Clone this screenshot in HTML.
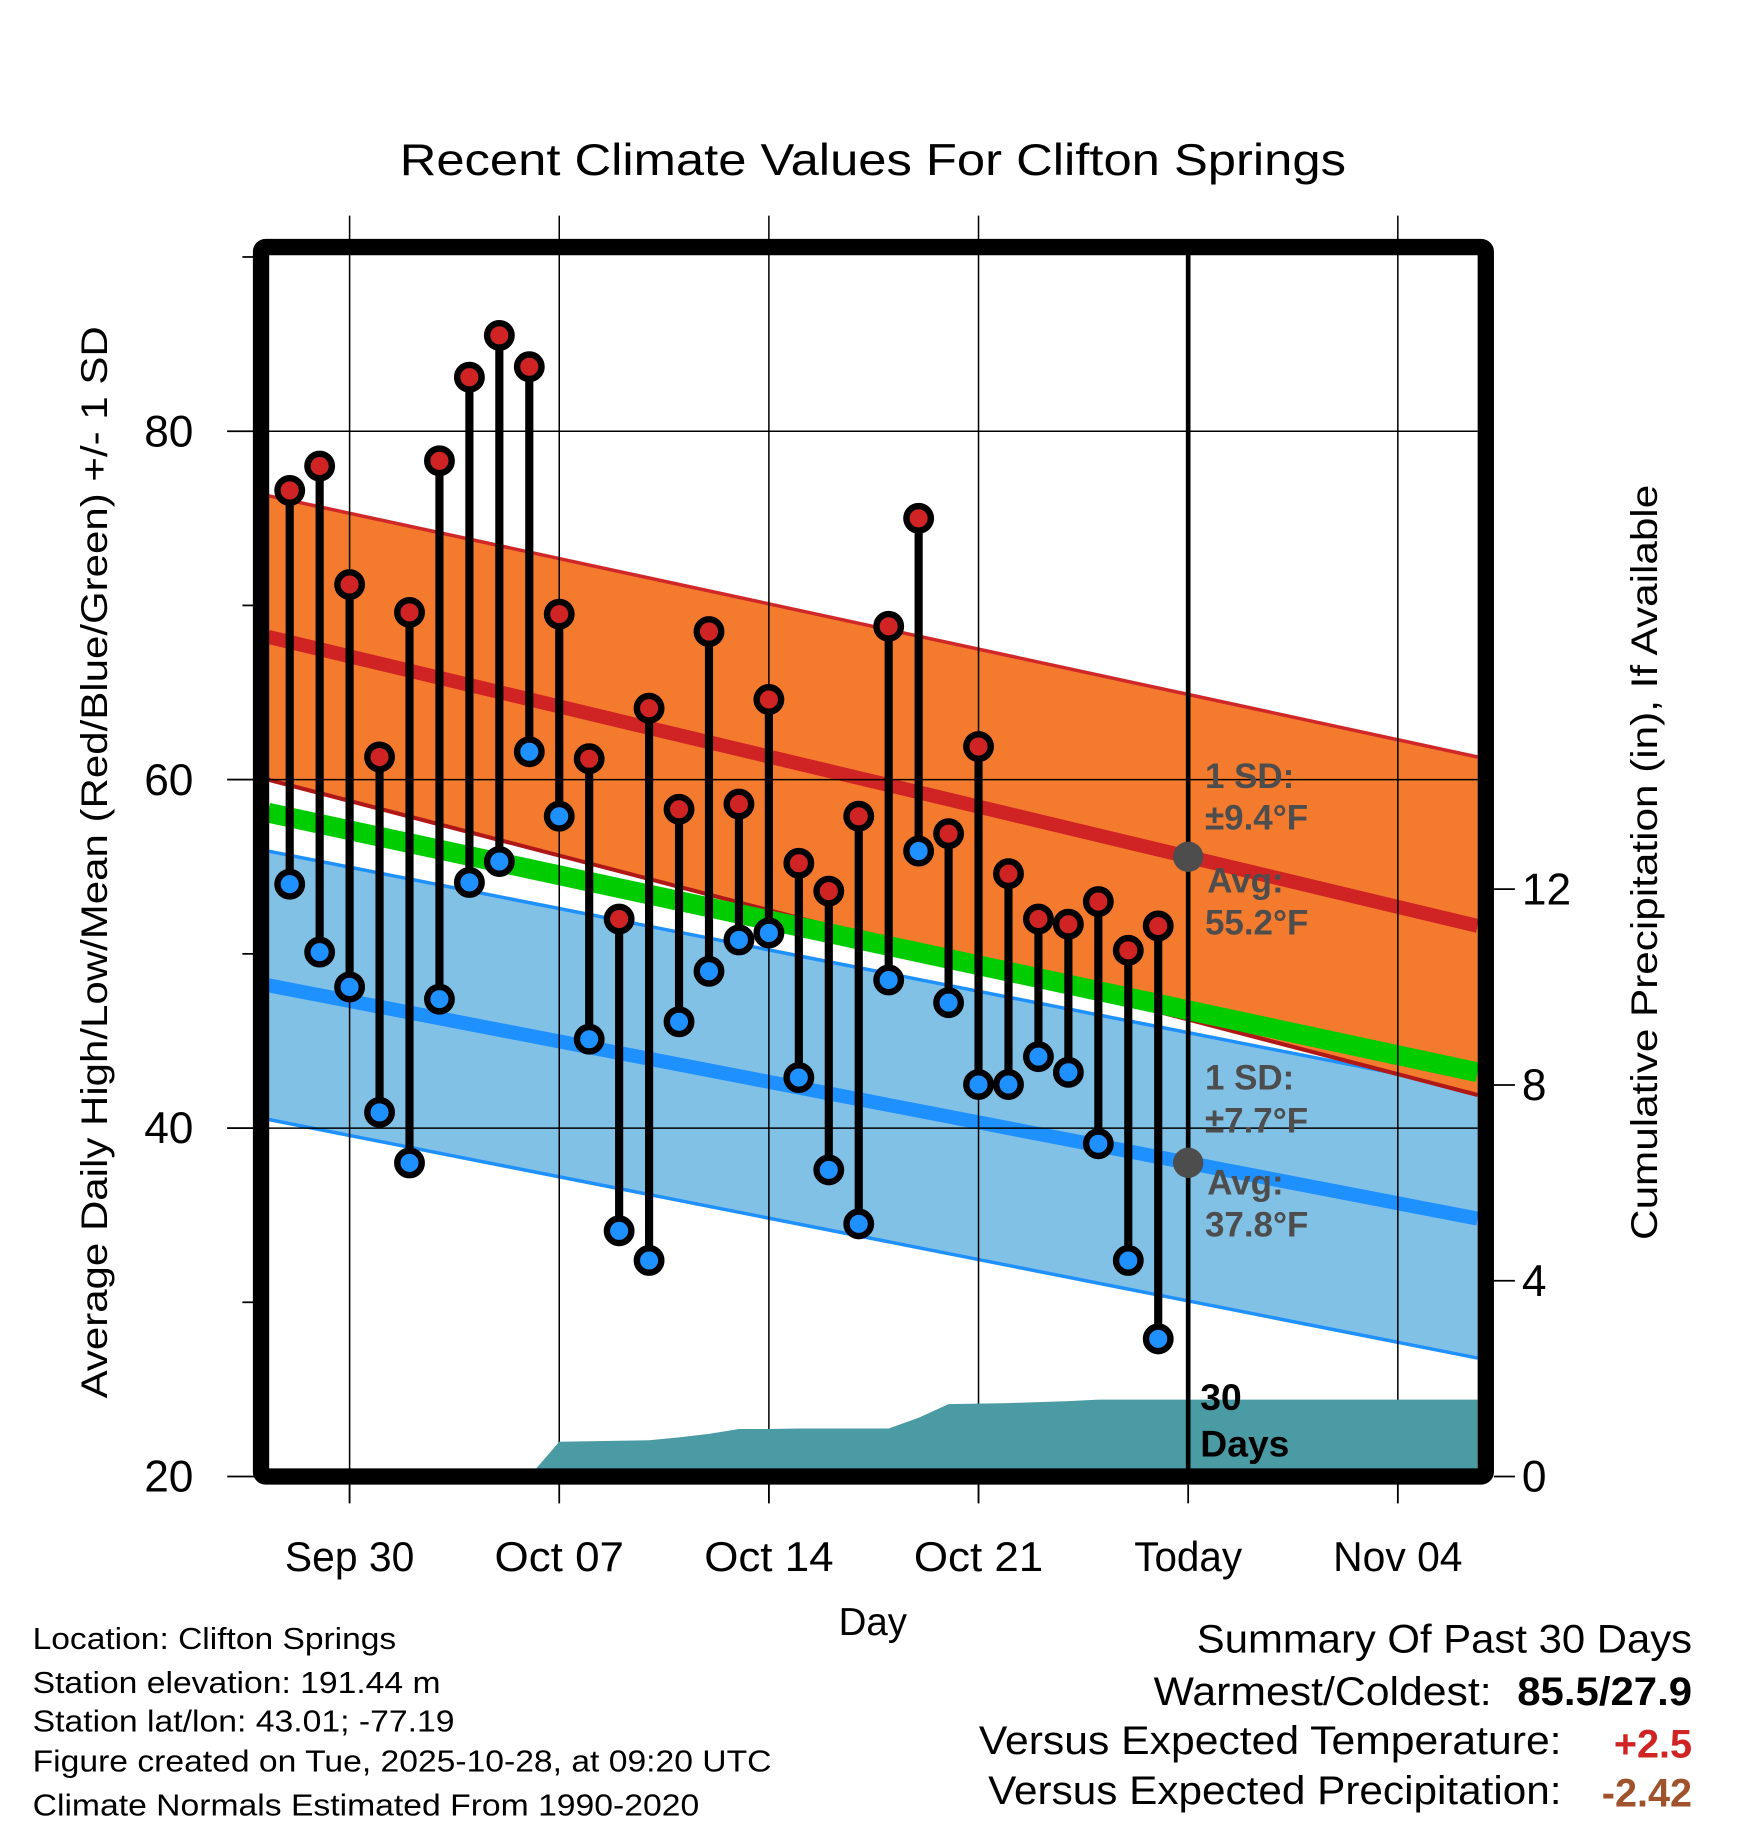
<!DOCTYPE html>
<html><head><meta charset="utf-8"><style>
html,body{margin:0;padding:0;background:#fff;}
svg{display:block;font-family:"Liberation Sans",sans-serif;}
</style></head><body>
<svg id="chart" width="1748" height="1828" viewBox="0 0 1500 1568.6" xmlns="http://www.w3.org/2000/svg">
<rect width="1500" height="1568.6" fill="#fff"/>
<g id="bands"></g>
<g id="grid"></g>
<g id="precip"></g>
<g id="marks"></g>
<g id="frame"></g>
<g id="labels"></g>
</svg>
<script>
// ---- data ----
const days = ["Sep 28","Sep 29","Sep 30","Oct 01","Oct 02","Oct 03","Oct 04","Oct 05","Oct 06","Oct 07","Oct 08","Oct 09","Oct 10","Oct 11","Oct 12","Oct 13","Oct 14","Oct 15","Oct 16","Oct 17","Oct 18","Oct 19","Oct 20","Oct 21","Oct 22","Oct 23","Oct 24","Oct 25","Oct 26","Oct 27"];
const highs = [76.6,78.0,71.2,61.3,69.6,78.3,83.1,85.5,83.7,69.5,61.2,52.0,64.1,58.3,68.5,58.6,64.6,55.2,53.6,57.9,68.8,75.0,56.9,61.9,54.6,52.0,51.7,53.0,50.2,51.6];
const lows = [54.0,50.1,48.1,40.9,38.0,47.4,54.1,55.3,61.6,57.9,45.1,34.1,32.4,46.1,49.0,50.8,51.2,42.9,37.6,34.5,48.5,55.9,47.2,42.5,42.5,44.1,43.2,39.1,32.4,27.9];
const precip = [0,0,0,0,0,0,0,0,0,0.71,0.72,0.73,0.74,0.80,0.87,0.97,0.97,0.98,0.98,0.98,0.98,1.20,1.48,1.49,1.50,1.52,1.54,1.57,1.57,1.57];
// normals at plot left edge / right edge (deg F)
const normHighAvg = [68.2, 51.6];
const normHighUp = [76.3, 61.3];
const normHighLo = [60.0, 41.9];
const normLowAvg = [48.2, 34.8];
const normLowUp = [55.9, 42.2];
const normLowLo = [40.5, 26.8];
const normMean = [58.1, 43.2];
const yTicks = [20,40,60,80];
const yMinor = [30,50,70,90];
const pTicks = [0,4,8,12];
const xTickLabels = ["Sep 30","Oct 07","Oct 14","Oct 21","Today","Nov 04"];
const xTickDays = [2,9,16,23,30,37];
const todayDay = 30;

// ---- axes ----
const X0 = 230, X1 = 1268;
const xd = d => 248.6 + d*25.7;           // day index (0 = Sep 28)
const y = v => 1267 - (v-20)*14.95;
const yp = p => 1267 - p*42;
const NS = "http://www.w3.org/2000/svg";
function mk(parent, tag, attrs){const e=document.createElementNS(NS,tag);for(const k in attrs)e.setAttribute(k,attrs[k]);document.getElementById(parent).appendChild(e);return e;}
function band(up, lo){return `M${X0},${y(up[0])} L${X1},${y(up[1])} L${X1},${y(lo[1])} L${X0},${y(lo[0])} Z`;}
function line(a){return `M${X0},${y(a[0])} L${X1},${y(a[1])}`;}

let e;
e = mk("bands","path",{d:band(normLowUp,normLowLo),fill:"#82c1e6"});
 
e = mk("bands","path",{d:line(normLowUp),stroke:"#1e90ff","stroke-width":3,fill:"none"});
 
e = mk("bands","path",{d:line(normLowLo),stroke:"#1e90ff","stroke-width":3,fill:"none"});
 
e = mk("bands","path",{d:band(normHighUp,normHighLo),fill:"#f47a2e"});
 
e = mk("bands","path",{d:line(normHighUp),stroke:"#d02828","stroke-width":3,fill:"none"});
 
e = mk("bands","path",{d:line(normHighLo),stroke:"#b01818","stroke-width":3.5,fill:"none"});
 
e = mk("bands","path",{d:line(normMean),stroke:"#00cc00","stroke-width":17,fill:"none"});
 
e = mk("bands","path",{d:line(normHighAvg),stroke:"#d02424","stroke-width":12,fill:"none"});
 
e = mk("bands","path",{d:line(normLowAvg),stroke:"#1e90ff","stroke-width":12,fill:"none"});
 

yTicks.forEach(v=>{
  if(v===20) return;
  e = mk("grid","line",{x1:195,x2:X1,y1:y(v),y2:y(v),stroke:"#000","stroke-width":1.3});
   
});
xTickDays.forEach((d,i)=>{
  if(d===todayDay) return;
  e = mk("grid","line",{x1:xd(d),x2:xd(d),y1:185,y2:1290,stroke:"#000","stroke-width":1.3});
   
});

let pd = `M${xd(0)},${yp(0)}`;
precip.forEach((p,i)=>{ pd += ` L${xd(i)},${yp(p)}`; });
pd += ` L${X1},${yp(precip[precip.length-1])} L${X1},${yp(0)} Z`;
e = mk("precip","path",{d:pd,fill:"#4a9ba4"});
 

e = mk("marks","line",{x1:xd(todayDay),x2:xd(todayDay),y1:215,y2:1265,stroke:"#000","stroke-width":4});
 

days.forEach((d,i)=>{
  e = mk("marks","line",{x1:xd(i),x2:xd(i),y1:y(highs[i]),y2:y(lows[i]),stroke:"#000","stroke-width":7});
   
});
days.forEach((d,i)=>{
  e = mk("marks","circle",{cx:xd(i),cy:y(highs[i]),r:10.5,fill:"#d02424",stroke:"#000","stroke-width":5.5});
   
  e = mk("marks","circle",{cx:xd(i),cy:y(lows[i]),r:10.5,fill:"#1e90ff",stroke:"#000","stroke-width":5.5});
   
});
const tFrac = (xd(todayDay)-X0)/(X1-X0);
const tHigh = normHighAvg[0]+(normHighAvg[1]-normHighAvg[0])*tFrac;
const tLow = normLowAvg[0]+(normLowAvg[1]-normLowAvg[0])*tFrac;
e = mk("marks","circle",{cx:xd(todayDay),cy:y(tHigh),r:13,fill:"#4d4d4d"});
 
e = mk("marks","circle",{cx:xd(todayDay),cy:y(tLow),r:13,fill:"#4d4d4d"});
 

e = mk("frame","rect",{x:224,y:212,width:1051,height:1055,fill:"none",stroke:"#000","stroke-width":14,rx:4});
 
yTicks.concat(yMinor).forEach(v=>{
  const major = yTicks.includes(v);
  e = mk("frame","line",{x1:major?195:208,x2:218,y1:y(v),y2:y(v),stroke:"#000","stroke-width":1.5});
   
});
pTicks.forEach(p=>{
  e = mk("frame","line",{x1:1282,x2:1300,y1:yp(p),y2:yp(p),stroke:"#000","stroke-width":1.5});
   
});
xTickDays.forEach(d=>{
  e = mk("frame","line",{x1:xd(d),x2:xd(d),y1:1274,y2:1290,stroke:"#000","stroke-width":1.5});
   
});

function txt(s,attrs,name){const t=mk("labels","text",attrs);t.textContent=s;return t;}
yTicks.forEach(v=>txt(String(v),{x:166,y:y(v)+13,"font-size":38,"text-anchor":"end"},'y-tick-label'));
pTicks.forEach(p=>txt(String(p),{x:1306,y:yp(p)+13,"font-size":38},'precip-tick-label'));
xTickLabels.forEach((s,i)=>txt(s,{x:xd(xTickDays[i]),y:1348,"font-size":36,"text-anchor":"middle",textLength:s.length*18.5,lengthAdjust:"spacingAndGlyphs"},'x-tick-label'));
</script>
<svg style="position:absolute;left:0;top:0" width="1748" height="1828" viewBox="0 0 1500 1568.6" xmlns="http://www.w3.org/2000/svg" font-family="Liberation Sans, sans-serif">
<text x="749" y="150" font-size="38" text-anchor="middle" textLength="812" lengthAdjust="spacingAndGlyphs">Recent Climate Values For Clifton Springs</text>
<text transform="translate(92,740) rotate(-90)" font-size="32" text-anchor="middle" textLength="920" lengthAdjust="spacingAndGlyphs">Average Daily High/Low/Mean (Red/Blue/Green) +/- 1 SD</text>
<text transform="translate(1422,740) rotate(-90)" font-size="32" text-anchor="middle" textLength="648" lengthAdjust="spacingAndGlyphs">Cumulative Precipitation (in), If Available</text>
<text x="749" y="1403" font-size="33" text-anchor="middle">Day</text>
<g fill="#4d4d4d" font-weight="bold" font-size="30">
<text x="1034" y="676">1 SD:</text>
<text x="1034" y="712">±9.4°F</text>
<text x="1036" y="766">Avg:</text>
<text x="1034" y="802">55.2°F</text>
<text x="1034" y="935">1 SD:</text>
<text x="1034" y="972">±7.7°F</text>
<text x="1036" y="1025">Avg:</text>
<text x="1034" y="1061">37.8°F</text>
</g>
<text x="1030" y="1210" font-size="32" font-weight="bold">30</text>
<text x="1030" y="1250" font-size="32" font-weight="bold">Days</text>
<g font-size="26">
<text x="28" y="1415" textLength="312" lengthAdjust="spacingAndGlyphs">Location: Clifton Springs</text>
<text x="28" y="1453" textLength="350" lengthAdjust="spacingAndGlyphs">Station elevation: 191.44 m</text>
<text x="28" y="1486" textLength="362" lengthAdjust="spacingAndGlyphs">Station lat/lon: 43.01; -77.19</text>
<text x="28" y="1520" textLength="634" lengthAdjust="spacingAndGlyphs">Figure created on Tue, 2025-10-28, at 09:20 UTC</text>
<text x="28" y="1558" textLength="572" lengthAdjust="spacingAndGlyphs">Climate Normals Estimated From 1990-2020</text>
</g>
<g font-size="34">
<text x="1452" y="1418" text-anchor="end" textLength="425" lengthAdjust="spacingAndGlyphs">Summary Of Past 30 Days</text>
<text x="1280" y="1463" text-anchor="end" textLength="290" lengthAdjust="spacingAndGlyphs">Warmest/Coldest:</text>
<text x="1452" y="1463" text-anchor="end" font-weight="bold" textLength="150" lengthAdjust="spacingAndGlyphs">85.5/27.9</text>
<text x="1340" y="1505" text-anchor="end" textLength="500" lengthAdjust="spacingAndGlyphs">Versus Expected Temperature:</text>
<text x="1452" y="1508" text-anchor="end" font-weight="bold" fill="#d02424">+2.5</text>
<text x="1340" y="1548" text-anchor="end" textLength="492" lengthAdjust="spacingAndGlyphs">Versus Expected Precipitation:</text>
<text x="1452" y="1550" text-anchor="end" font-weight="bold" fill="#a0522d">-2.42</text>
</g>
</svg>
</body></html>
